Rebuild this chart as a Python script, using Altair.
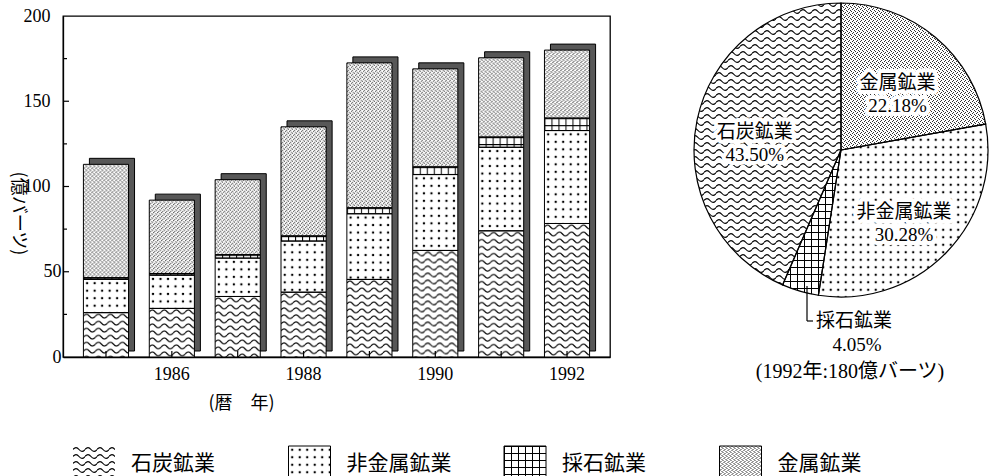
import base64
import math

import altair as alt
import pandas as pd

# ---- data -------------------------------------------------------------
years = [1985, 1986, 1987, 1988, 1989, 1990, 1991, 1992]
coal = [26, 28.5, 35.5, 38, 45.5, 62.5, 74, 78.3]          # 石炭鉱業
nonmetal = [19.5, 19.5, 22.5, 30, 38.5, 44.5, 49, 54.5]    # 非金属鉱業
quarry = [1, 1, 2, 3, 3.5, 4.5, 6, 7.3]                    # 採石鉱業
metal = [66.5, 43, 44, 64, 85, 57.5, 46.5, 39.9]            # 金属鉱業

sectors = ["石炭鉱業", "非金属鉱業", "採石鉱業", "金属鉱業"]
sector_kind = {"石炭鉱業": "wave", "非金属鉱業": "dots", "採石鉱業": "grid", "金属鉱業": "stipple"}

pie_sectors = ["金属鉱業", "非金属鉱業", "採石鉱業", "石炭鉱業"]
pie_shares = [22.18, 30.28, 4.05, 43.50]

y_major = [50, 100, 150]
y_minor = [25, 75, 125, 175]

# ---- layout -----------------------------------------------------------
LEFT, TOP = 63, 16
W, H = 547, 341
PCX, PCY, R = 778, 134, 147
SERIF = "Liberation Serif, Noto Sans CJK JP"
JP = "Noto Sans CJK JP"

# ---- fill textures as small svg images ------------------------------
PATTERNS = {
    "wave": '<pattern id="p" width="12" height="7" patternUnits="userSpaceOnUse">'
            '<path d="M0 3.5C2 1 4 1 6 3.5S10 6 12 3.5" fill="none" stroke="#000" stroke-width="1.2"/></pattern>',
    "dots": '<pattern id="p" width="7.5" height="7.5" patternUnits="userSpaceOnUse">'
            '<circle cx="3.7" cy="3.7" r="1.2" fill="#000"/></pattern>',
    "grid": '<pattern id="p" width="7" height="7" patternUnits="userSpaceOnUse">'
            '<path d="M0 0.5H7M0.5 0V7" stroke="#000" stroke-width="1"/></pattern>',
    "stipple": '<pattern id="p" width="4" height="4" patternUnits="userSpaceOnUse">'
               '<rect width="1" height="1" fill="#333"/><rect x="2" y="1" width="1" height="1" fill="#333"/>'
               '<rect x="1" y="3" width="1" height="1" fill="#333"/><rect x="3" y="2" width="1" height="1" fill="#333"/></pattern>',
}


def texture(kind, clip=None):
    clip_def, clip_attr = "", ""
    if clip:
        clip_def = f'<clipPath id="c"><path d="{clip}"/></clipPath>'
        clip_attr = ' clip-path="url(#c)"'
    svg = (
        '<svg xmlns="http://www.w3.org/2000/svg" width="100%" height="100%">'
        f"<defs>{PATTERNS[kind]}{clip_def}</defs>"
        f'<g{clip_attr}><rect width="100%" height="100%" fill="#fff"/>'
        '<rect width="100%" height="100%" fill="url(#p)"/></g></svg>'
    )
    return "data:image/svg+xml;base64," + base64.b64encode(svg.encode("utf-8")).decode()


# ---- tables -----------------------------------------------------------
seg_rows = []
for i, yr in enumerate(years):
    base = 0.0
    for sec, vals in zip(sectors, [coal, nonmetal, quarry, metal]):
        seg_rows.append({"year": yr, "sector": sec, "start": base, "end": base + vals[i],
                         "url": texture(sector_kind[sec])})
        base += vals[i]
seg_df = pd.DataFrame(seg_rows)
tot_df = seg_df.groupby("year", as_index=False)["end"].max().rename(columns={"end": "total"})
total_1992 = float(tot_df.loc[tot_df.year == 1992, "total"].iloc[0])

share_sum = sum(pie_shares)
pie_rows, acc = [], 0.0
c = R + 2
for k, (sec, pct) in enumerate(zip(pie_sectors, pie_shares)):
    a0 = acc / share_sum * 2 * math.pi
    a1 = (acc + pct) / share_sum * 2 * math.pi
    acc += pct
    x0, y0 = c + R * math.sin(a0), c - R * math.cos(a0)
    x1, y1 = c + R * math.sin(a1), c - R * math.cos(a1)
    large = 1 if a1 - a0 > math.pi else 0
    path = f"M{c} {c}L{x0:.2f} {y0:.2f}A{R} {R} 0 {large} 1 {x1:.2f} {y1:.2f}Z"
    label = "" if sec == "採石鉱業" else f"{sec}\n{pct:.2f}%"
    pie_rows.append({"sector": sec, "pct": pct, "ord": k, "label": label,
                     "url": texture(sector_kind[sec], path)})
pie_df = pd.DataFrame(pie_rows)
quarry_pct = pie_shares[pie_sectors.index("採石鉱業")]

# ---- shared encodings -------------------------------------------------
x_axis = alt.Axis(
    title="(暦　年)", labelExpr="datum.value % 2 == 0 ? datum.label : ''",
    labelAngle=0, labelFont=SERIF, labelFontSize=18, labelPadding=8, ticks=False,
    titleFont=JP, titleFontSize=18, titleFontWeight="normal", titleX=178, titleY=46,
    titleAlign="center", titleBaseline="middle", domainColor="#000", domainWidth=1.3,
)
y_axis = alt.Axis(
    title="(億バーツ)", values=[0, 50, 100, 150, 200], ticks=False, tickSize=0, grid=False,
    labelPadding={"condition": {"test": "datum.value >= 100", "value": 13}, "value": 2},
    labelFont=SERIF, labelFontSize=18,
    titleFont=JP, titleFontSize=18, titleFontWeight="normal", titleAngle=90,
    titleX=-46, titleY=197, titleAlign="center", titleBaseline="middle",
    domainColor="#000", domainWidth=1.3,
)
x_scale = alt.Scale(paddingInner=0.315, paddingOuter=0.31)
y_scale = alt.Scale(domain=[0, 200], nice=False)


def X():
    return alt.X("year:O", scale=x_scale, axis=x_axis)


def Y(field):
    return alt.Y(field, scale=y_scale, axis=y_axis)


layers = []

# 3-D back face of each bar
layers.append(
    alt.Chart(tot_df).mark_bar(fill="#575757", stroke="#000", strokeWidth=1, xOffset=6, yOffset=-6)
    .encode(x=X(), y=Y("total:Q"))
)
# textured segments
layers.append(
    alt.Chart(seg_df).mark_image(aspect=False)
    .encode(x=X(), y=Y("end:Q"), y2="start:Q", url="url:N")
)
# segment outlines
layers.append(
    alt.Chart(seg_df).mark_bar(fillOpacity=0, stroke="#000", strokeWidth=1)
    .encode(x=X(), y=Y("end:Q"), y2="start:Q")
)
# inward ticks
layers.append(
    alt.Chart(pd.DataFrame({"v": y_major})).mark_rule(color="#000", strokeWidth=1.2)
    .encode(y=Y("v:Q"), x=alt.value(0), x2=alt.value(6))
)
layers.append(
    alt.Chart(pd.DataFrame({"v": y_minor})).mark_rule(color="#000", strokeWidth=1.2)
    .encode(y=Y("v:Q"), x=alt.value(0), x2=alt.value(4))
)
layers.append(
    alt.Chart(pd.DataFrame({"year": years})).mark_rule(color="#000", strokeWidth=1.2)
    .encode(x=X(), y=alt.value(H), y2=alt.value(H - 6))
)

# ---- 1992 pie ---------------------------------------------------------
theta = alt.Theta("pct:Q", stack=True)
order = alt.Order("ord:Q")
layers.append(
    alt.Chart(pie_df).mark_arc(radius=R, fill="#fff")
    .encode(theta=theta, order=order, x=alt.value(PCX), y=alt.value(PCY))
)
layers.append(
    alt.Chart(pie_df).mark_image(aspect=False)
    .encode(x=alt.value(PCX - c), x2=alt.value(PCX + c), y=alt.value(PCY - c), y2=alt.value(PCY + c),
            url="url:N")
)
layers.append(
    alt.Chart(pie_df).mark_arc(radius=R, fillOpacity=0, stroke="#000", strokeWidth=1.2)
    .encode(theta=theta, order=order, x=alt.value(PCX), y=alt.value(PCY))
)
layers.append(
    alt.Chart(pie_df).mark_text(radius=88, lineBreak="\n", lineHeight=23, font=SERIF, fontSize=19,
                                stroke="#fff", strokeWidth=8, strokeJoin="round", fill="#fff")
    .encode(theta=theta, order=order, text="label:N", x=alt.value(PCX), y=alt.value(PCY))
)
layers.append(
    alt.Chart(pie_df).mark_text(radius=88, lineBreak="\n", lineHeight=23, font=SERIF, fontSize=19,
                                fill="#000")
    .encode(theta=theta, order=order, text="label:N", x=alt.value(PCX), y=alt.value(PCY))
)
# leader and outside label for 採石鉱業
layers.append(
    alt.Chart(pd.DataFrame({"k": [0]})).mark_rule(color="#000", strokeWidth=1.2)
    .encode(x=alt.value(744), y=alt.value(270), y2=alt.value(305))
)
layers.append(
    alt.Chart(pd.DataFrame({"k": [0]})).mark_rule(color="#000", strokeWidth=1.2)
    .encode(x=alt.value(744), x2=alt.value(750), y=alt.value(305))
)
layers.append(
    alt.Chart(pd.DataFrame({"t": ["採石鉱業"]})).mark_text(font=JP, fontSize=19, align="left", baseline="middle")
    .encode(text="t:N", x=alt.value(753), y=alt.value(305))
)
layers.append(
    alt.Chart(pd.DataFrame({"t": [f"{quarry_pct:.2f}%"]})).mark_text(font=SERIF, fontSize=19, baseline="middle")
    .encode(text="t:N", x=alt.value(794), y=alt.value(329))
)
layers.append(
    alt.Chart(pd.DataFrame({"t": [f"(1992年:{total_1992:.0f}億バーツ)"]}))
    .mark_text(font=SERIF, fontSize=20, baseline="middle")
    .encode(text="t:N", x=alt.value(787), y=alt.value(356))
)

# ---- legend -----------------------------------------------------------
for i, sec in enumerate(sectors):
    sx = 10 + 215.5 * i
    one = pd.DataFrame({"sector": [sec], "url": [texture(sector_kind[sec])]})
    layers.append(
        alt.Chart(one).mark_image(aspect=False)
        .encode(x=alt.value(sx), x2=alt.value(sx + 42), y=alt.value(430), y2=alt.value(466), url="url:N")
    )
    if sector_kind[sec] != "wave":
        layers.append(
            alt.Chart(one).mark_rect(fillOpacity=0, stroke="#000", strokeWidth=1)
            .encode(x=alt.value(sx), x2=alt.value(sx + 42), y=alt.value(430), y2=alt.value(466))
        )
    layers.append(
        alt.Chart(one).mark_text(font=JP, fontSize=21, align="left", baseline="middle")
        .encode(text="sector:N", x=alt.value(sx + 58), y=alt.value(448))
    )

chart = (
    alt.layer(*layers)
    .properties(
        width=W, height=H,
        padding={"left": LEFT, "top": TOP, "right": 990 - LEFT - W, "bottom": 476 - TOP - H},
        autosize=alt.AutoSizeParams(type="none"),
        background="#fff",
    )
    .configure_view(stroke="#000", strokeWidth=1.3)
    .configure_axis(labelColor="#000", titleColor="#000")
)

chart.save("out.html", embed_options={"renderer": "svg", "actions": False})
